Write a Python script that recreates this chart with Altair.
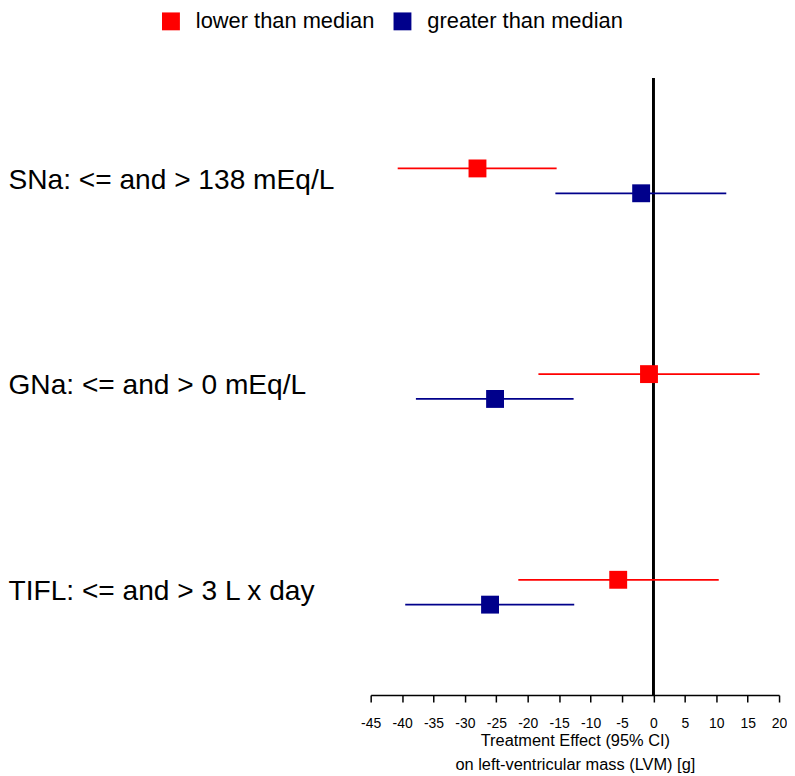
import altair as alt
import pandas as pd

FONT = "Liberation Sans"

groups = ["SNa: <= and > 138 mEq/L", "GNa: <= and > 0 mEq/L", "TIFL: <= and > 3 L x day"]
series = ["lower than median", "greater than median"]
colors = ["#FF0000", "#00008B"]

lower_est = [-28.0, -0.7, -5.6]
lower_lo = [-40.7, -18.3, -21.5]
lower_hi = [-15.4, 16.9, 10.4]

greater_est = [-1.95, -25.2, -26.0]
greater_lo = [-15.6, -37.8, -39.5]
greater_hi = [11.6, -12.7, -12.6]

x_ticks = list(range(-45, 25, 5))

rows = []
for i, g in enumerate(groups):
    rows.append({"group": g, "series": series[0], "est": lower_est[i], "lo": lower_lo[i], "hi": lower_hi[i]})
    rows.append({"group": g, "series": series[1], "est": greater_est[i], "lo": greater_lo[i], "hi": greater_hi[i]})
df = pd.DataFrame(rows)

y_enc = alt.Y(
    "group:N",
    sort=groups,
    scale=alt.Scale(paddingInner=0, paddingOuter=0),
    axis=alt.Axis(
        title=None, labelAlign="left", labelPadding=365, labelFontSize=28.3,
        ticks=False, domain=False, grid=False, labelColor="black", labelFont=FONT, labelLimit=0,
    ),
)
yoff_enc = alt.YOffset("series:N", sort=series, scale=alt.Scale(paddingInner=0, paddingOuter=0, range=[78.5, 128.5]))
x_scale = alt.Scale(domain=[-45, 20], nice=False, zero=False)
x_axis = alt.Axis(
    values=x_ticks, grid=False, domainColor="black", domainWidth=1.5,
    tickColor="black", tickWidth=1.5, tickSize=7, labelFontSize=14, labelPadding=15,
    labelColor="black", labelFont=FONT, labelFlush=False, labelOverlap=False,
    labelExpr="toString(datum.value)",
    title=["Treatment Effect (95% CI)", "on left-ventricular mass (LVM) [g]"],
    titleFontSize=16.5, titleFontWeight="normal", titleColor="black", titleFont=FONT,
    titlePadding=2, titleLineHeight=24,
)
color_scale = alt.Scale(domain=series, range=colors)
legend = alt.Legend(
    title=None, orient="none", direction="horizontal", legendX=-212, legendY=-68,
    symbolType="square", symbolSize=324, symbolStrokeWidth=0, symbolOpacity=1,
    labelFontSize=22, labelFont=FONT, labelColor="black", labelOffset=14, labelLimit=0,
    columnPadding=17, padding=0,
)
color_enc = alt.Color("series:N", sort=series, scale=color_scale, legend=legend)

base = alt.Chart(df)

zero_line = alt.Chart(df).mark_rule(color="black", strokeWidth=2).encode(
    x=alt.X(datum=0, scale=x_scale, axis=x_axis)
)

ci = base.mark_rule(strokeWidth=1.8).encode(
    x=alt.X("lo:Q", scale=x_scale, axis=x_axis),
    x2="hi:Q",
    y=y_enc,
    yOffset=yoff_enc,
    color=color_enc,
)

pts = base.mark_square(size=324, opacity=1, filled=True).encode(
    x=alt.X("est:Q", scale=x_scale, axis=x_axis),
    y=y_enc,
    yOffset=yoff_enc,
    color=color_enc,
)

chart = (
    alt.layer(zero_line, ci, pts)
    .properties(width=411, height=621, padding={"left": 0, "top": 0, "right": 0, "bottom": 0})
    .configure(font=FONT, view=alt.ViewConfig(stroke=None))
)

chart.save("out.html", embed_options={"renderer": "svg", "actions": False})
